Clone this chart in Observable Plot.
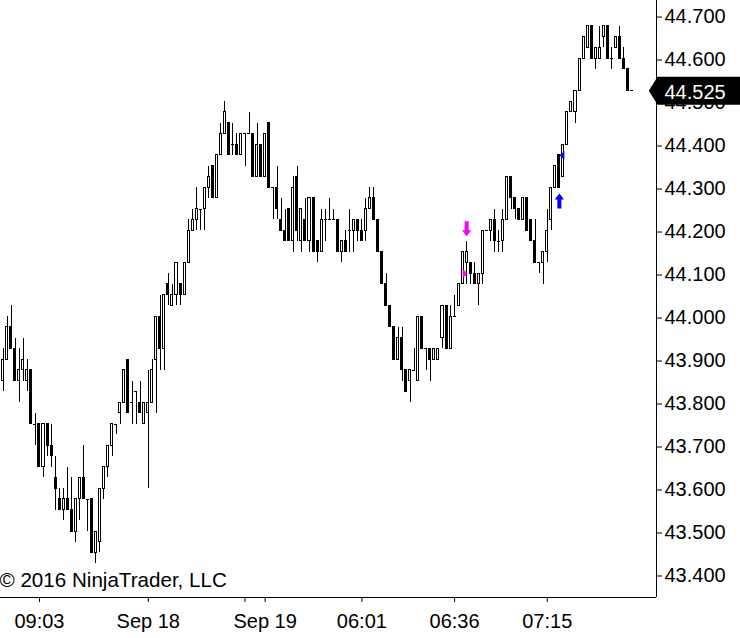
<!DOCTYPE html>
<html><head><meta charset="utf-8">
<script src="https://cdn.jsdelivr.net/npm/d3@7"></script>
<script src="https://cdn.jsdelivr.net/npm/@observablehq/plot@0.6"></script>
<style>body{margin:0;background:#fff}</style>
</head><body><div id="chart"></div>
<script>
const opens = [
43.850,43.900,43.975,43.925,43.850,43.875,43.850,43.875,43.750,43.750,
43.650,43.750,43.700,43.625,43.575,43.550,43.575,43.550,43.500,43.575,
43.625,43.575,43.575,43.450,43.475,43.600,43.650,43.700,43.750,43.775,
43.800,43.900,43.800,43.825,43.800,43.750,43.775,43.800,43.900,44.000,
43.925,44.075,44.025,44.050,44.075,44.050,44.125,44.200,44.225,44.250,
44.250,44.300,44.350,44.275,44.375,44.425,44.450,44.400,44.400,44.375,
44.425,44.425,44.425,44.325,44.400,44.325,44.450,44.300,44.300,44.225,
44.200,44.250,44.175,44.325,44.175,44.225,44.175,44.275,44.175,44.150,
44.225,44.225,44.225,44.225,44.150,44.175,44.200,44.200,44.225,44.200,
44.200,44.250,44.275,44.225,44.150,44.075,44.025,43.975,43.900,43.950,
43.875,43.850,43.875,43.850,44.000,43.925,43.925,43.900,43.900,43.950,
44.025,43.925,44.000,44.025,44.075,44.125,44.125,44.100,44.075,44.100,
44.200,44.200,44.225,44.175,44.175,44.225,44.325,44.275,44.250,44.225,
44.275,44.225,44.175,44.125,44.125,44.150,44.225,44.300,44.375,44.325,
44.400,44.475,44.475,44.525,44.600,44.625,44.675,44.600,44.600,44.650,
44.675,44.600,44.625,44.650,44.600,44.575,44.525];
const highs = [
43.925,44.000,44.025,43.950,43.925,43.950,43.900,43.875,43.775,43.750,
43.750,43.750,43.750,43.675,43.600,43.600,43.650,43.625,43.575,43.625,
43.700,43.575,43.575,43.500,43.600,43.650,43.700,43.750,43.750,43.800,
43.875,43.900,43.850,43.825,43.850,43.800,43.875,43.900,44.000,44.050,
44.050,44.100,44.075,44.125,44.075,44.125,44.225,44.250,44.300,44.250,
44.300,44.350,44.350,44.375,44.450,44.500,44.450,44.450,44.425,44.425,
44.425,44.475,44.425,44.450,44.400,44.425,44.450,44.300,44.350,44.275,
44.250,44.250,44.325,44.350,44.250,44.275,44.275,44.275,44.175,44.250,
44.250,44.275,44.250,44.225,44.175,44.200,44.250,44.225,44.225,44.225,
44.275,44.300,44.300,44.225,44.150,44.100,44.025,43.975,43.975,43.975,
43.875,43.875,43.925,44.000,44.000,43.925,43.925,43.925,43.925,44.025,
44.025,44.025,44.050,44.075,44.150,44.175,44.125,44.125,44.100,44.200,
44.200,44.225,44.250,44.200,44.250,44.325,44.325,44.275,44.250,44.275,
44.275,44.225,44.225,44.125,44.150,44.250,44.300,44.350,44.375,44.400,
44.475,44.500,44.525,44.600,44.650,44.675,44.675,44.625,44.675,44.675,
44.675,44.625,44.650,44.675,44.625,44.575,44.525];
const lows = [
43.825,43.900,43.925,43.850,43.800,43.850,43.825,43.750,43.700,43.650,
43.625,43.675,43.650,43.550,43.550,43.525,43.550,43.500,43.475,43.525,
43.575,43.500,43.450,43.425,43.450,43.575,43.625,43.675,43.725,43.750,
43.800,43.775,43.750,43.750,43.775,43.750,43.600,43.800,43.775,43.875,
43.875,44.025,44.025,44.025,44.025,44.050,44.125,44.200,44.200,44.200,
44.200,44.275,44.275,44.275,44.375,44.425,44.375,44.375,44.375,44.375,
44.350,44.425,44.325,44.325,44.325,44.325,44.300,44.225,44.225,44.200,
44.175,44.175,44.150,44.175,44.150,44.175,44.150,44.150,44.125,44.150,
44.175,44.225,44.225,44.150,44.125,44.150,44.150,44.150,44.175,44.175,
44.175,44.250,44.225,44.150,44.075,44.025,43.975,43.900,43.900,43.850,
43.825,43.800,43.875,43.850,43.925,43.875,43.850,43.900,43.900,43.925,
43.925,43.925,44.000,44.025,44.075,44.075,44.075,44.075,44.025,44.075,
44.200,44.175,44.150,44.150,44.150,44.225,44.250,44.225,44.225,44.225,
44.200,44.175,44.125,44.100,44.075,44.125,44.200,44.300,44.300,44.325,
44.400,44.475,44.450,44.525,44.600,44.625,44.600,44.575,44.600,44.625,
44.600,44.575,44.625,44.600,44.575,44.525,44.525];
const closes = [
43.900,43.975,43.925,43.850,43.875,43.900,43.875,43.750,43.750,43.650,
43.750,43.700,43.675,43.600,43.550,43.575,43.550,43.500,43.575,43.625,
43.575,43.575,43.450,43.500,43.600,43.650,43.700,43.750,43.750,43.800,
43.875,43.775,43.800,43.825,43.775,43.800,43.800,43.875,44.000,43.925,
44.050,44.050,44.050,44.125,44.050,44.125,44.200,44.225,44.250,44.250,
44.300,44.325,44.275,44.375,44.425,44.475,44.375,44.400,44.375,44.425,
44.425,44.425,44.325,44.400,44.325,44.425,44.300,44.300,44.250,44.200,
44.175,44.175,44.300,44.200,44.250,44.175,44.275,44.150,44.150,44.225,
44.225,44.225,44.225,44.150,44.175,44.150,44.200,44.225,44.200,44.175,
44.250,44.275,44.225,44.150,44.075,44.025,43.975,43.900,43.950,43.875,
43.825,43.875,43.875,44.000,43.925,43.925,43.900,43.925,43.925,44.025,
43.925,44.000,44.000,44.075,44.150,44.150,44.100,44.075,44.100,44.200,
44.200,44.225,44.175,44.175,44.225,44.325,44.275,44.250,44.225,44.275,
44.200,44.175,44.125,44.125,44.150,44.200,44.300,44.350,44.300,44.400,
44.475,44.500,44.525,44.600,44.650,44.675,44.600,44.625,44.625,44.675,
44.600,44.600,44.650,44.600,44.575,44.525,44.525];

const yTicks = [43.4,43.5,43.6,43.7,43.8,43.9,44.0,44.1,44.2,44.3,44.4,44.5,44.6,44.7];
const xTickIdx = [9, 36, 60, 65, 89, 112, 135];
const xTickLabels = ["09:03", "Sep 18", "", "Sep 19", "06:01", "06:36", "07:15"];
const copyright = "\u00A9 2016 NinjaTrader, LLC";

// signal arrows and execution markers (bar index, price)
const sellSignalIdx = [115], buySignalIdx = [138];
const sellExecIdx = [114], sellExecPrice = [44.100];
const buyExecIdx = [139], buyExecPrice = [44.375];

const candles = opens.map((o, i) => ({i, open: o, high: highs[i], low: lows[i], close: closes[i]}));
const labelOf = new Map(xTickIdx.map((d, k) => [d, xTickLabels[k]]));
const xDomain = [-0.67, 162.1];
const yDomain = [43.3465, 44.735];
const lastClose = closes[closes.length - 1];

const downArrow = {draw(c) { c.moveTo(0,0); c.lineTo(-4.7,-6); c.lineTo(-2,-6); c.lineTo(-2,-15); c.lineTo(2,-15); c.lineTo(2,-6); c.lineTo(4.7,-6); c.closePath(); }};
const upArrow = {draw(c) { c.moveTo(0,0); c.lineTo(-4.7,6); c.lineTo(-2,6); c.lineTo(-2,15); c.lineTo(2,15); c.lineTo(2,6); c.lineTo(4.7,6); c.closePath(); }};
const rightTri = {draw(c) { c.moveTo(0,-4.7); c.lineTo(5,0); c.lineTo(0,4.7); c.closePath(); }};
const leftTri = {draw(c) { c.moveTo(1,-4.4); c.lineTo(-4,0); c.lineTo(1,4.4); c.closePath(); }};
const priceTag = {draw(c) { c.moveTo(-7.7,0); c.lineTo(1,-14); c.lineTo(84,-14); c.lineTo(84,14); c.lineTo(1,14); c.closePath(); }};

const crisp = {shapeRendering: "crispEdges"};
const chart = Plot.plot({
  width: 740, height: 638,
  marginLeft: 0, marginRight: 84, marginTop: 0, marginBottom: 41,
  x: {type: "linear", domain: xDomain, axis: null},
  y: {domain: yDomain, axis: null},
  style: {fontFamily: '"Liberation Sans", Arial, sans-serif', fontSize: "20px", background: "#fff", overflow: "visible", color: "#000"},
  marks: [
    Plot.ruleX(candles, {x: "i", y1: "low", y2: "high", stroke: "#000", ...crisp}),
    Plot.rect(candles.filter(d => d.close > d.open), {x1: d => d.i - 0.25, x2: d => d.i + 0.25, y1: "open", y2: "close", fill: "#fff", stroke: "#000", ...crisp}),
    Plot.rect(candles.filter(d => d.close < d.open), {x1: d => d.i - 0.25, x2: d => d.i + 0.25, y1: "open", y2: "close", fill: "#000", stroke: "#000", ...crisp}),
    Plot.ruleY(candles.filter(d => d.close === d.open), {x1: d => d.i - 0.37, x2: d => d.i + 0.37, y: "close", stroke: "#000", ...crisp}),
    Plot.dot(sellSignalIdx, {x: d => d, y: d => highs[d], symbol: downArrow, fill: "#ff00ff", stroke: "none", dy: -5}),
    Plot.dot(buySignalIdx, {x: d => d, y: d => lows[d], symbol: upArrow, fill: "#0000ff", stroke: "none", dy: 6}),
    Plot.dot(sellExecIdx, {x: d => d, y: (d, k) => sellExecPrice[k], symbol: rightTri, fill: "#ff00ff", stroke: "none"}),
    Plot.dot(buyExecIdx, {x: d => d, y: (d, k) => buyExecPrice[k], symbol: leftTri, fill: "#0000ff", stroke: "none"}),
    Plot.ruleX([xDomain[1]], {stroke: "#000"}),
    Plot.ruleY([yDomain[0]], {stroke: "#000"}),
    Plot.axisY({anchor: "right", ticks: yTicks, tickFormat: d => d.toFixed(3), tickSize: 5, tickPadding: 3, fontSize: 20, label: null, dy: 1.5}),
    Plot.axisX({anchor: "bottom", ticks: xTickIdx, tickFormat: d => labelOf.get(d), tickSize: 5, tickPadding: 11, fontSize: 20, label: null}),
    Plot.text([copyright], {frameAnchor: "bottom-left", text: d => d, textAnchor: "start", lineAnchor: "middle", dx: -1, dy: -16.7, fontSize: 20.6, fill: "#000"}),
    Plot.dot([lastClose], {x: () => xDomain[1], y: d => d, symbol: priceTag, fill: "#000", stroke: "none"}),
    Plot.text([lastClose], {x: () => xDomain[1], y: d => d, text: d => d.toFixed(3), fill: "#fff", textAnchor: "start", dx: 8, dy: 1.5, fontSize: 20})
  ]
});
document.getElementById("chart").appendChild(chart);
</script>
</body></html>
